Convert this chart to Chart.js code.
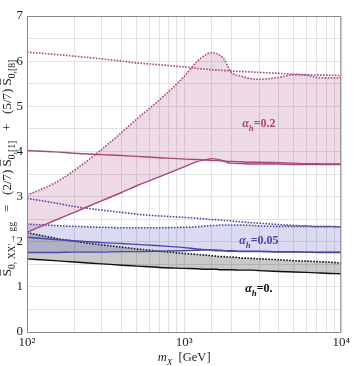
<!DOCTYPE html>
<html>
<head>
<meta charset="utf-8">
<script src="https://cdn.jsdelivr.net/npm/chart.js@4.4.1/dist/chart.umd.min.js"></script>
<style>
  html, body { margin: 0; padding: 0; background: #fff; }
</style>
</head>
<body>
<canvas id="myChart" width="353" height="366"></canvas>
<script>
// masses in GeV, shared by every curve
var masses = [100, 150, 200, 300, 400, 500, 700, 1000, 1200, 1400, 1500, 1600, 1700, 1800, 1900, 2000, 2300, 2700, 3000, 4000, 5000, 6000, 7000, 8000, 10000];

// alpha_h = 0.2
var pinkDotFlat  = [6.20, 6.15, 6.11, 6.05, 6.00, 5.96, 5.92, 5.87, 5.84, 5.82, 5.81, 5.80, 5.80, 5.79, 5.79, 5.78, 5.77, 5.76, 5.75, 5.73, 5.71, 5.70, 5.69, 5.69, 5.68];
var pinkDotRise  = [3.03, 3.30, 3.58, 4.05, 4.42, 4.72, 5.15, 5.66, 5.98, 6.16, 6.19, 6.17, 6.12, 6.04, 5.88, 5.75, 5.67, 5.61, 5.60, 5.64, 5.70, 5.69, 5.64, 5.63, 5.63];
var pinkSolRise  = [2.21, 2.47, 2.65, 2.91, 3.09, 3.24, 3.44, 3.66, 3.77, 3.82, 3.84, 3.83, 3.81, 3.78, 3.75, 3.74, 3.73, 3.72, 3.72, 3.72, 3.71, 3.71, 3.71, 3.71, 3.71];
var pinkSolFlat  = [4.02, 3.99, 3.96, 3.93, 3.91, 3.89, 3.86, 3.83, 3.82, 3.81, 3.80, 3.80, 3.79, 3.79, 3.78, 3.78, 3.77, 3.76, 3.76, 3.75, 3.74, 3.73, 3.73, 3.72, 3.72];

// alpha_h = 0.05
var blueDotFlat  = [2.96, 2.86, 2.78, 2.70, 2.65, 2.61, 2.57, 2.54, 2.52, 2.50, 2.49, 2.49, 2.48, 2.47, 2.47, 2.46, 2.44, 2.42, 2.41, 2.38, 2.36, 2.35, 2.34, 2.34, 2.33];
var blueDotBand  = [2.39, 2.36, 2.34, 2.32, 2.31, 2.31, 2.31, 2.32, 2.33, 2.35, 2.36, 2.36, 2.37, 2.37, 2.37, 2.37, 2.37, 2.36, 2.35, 2.34, 2.34, 2.34, 2.33, 2.33, 2.33];
var blueSolBand  = [1.76, 1.76, 1.77, 1.77, 1.78, 1.78, 1.79, 1.80, 1.81, 1.82, 1.82, 1.82, 1.81, 1.80, 1.79, 1.79, 1.78, 1.78, 1.78, 1.77, 1.77, 1.77, 1.76, 1.76, 1.76];
var blueSolFlat  = [2.10, 2.05, 2.02, 1.98, 1.96, 1.94, 1.91, 1.87, 1.84, 1.82, 1.81, 1.80, 1.80, 1.80, 1.80, 1.80, 1.79, 1.79, 1.79, 1.78, 1.78, 1.77, 1.77, 1.77, 1.77];

// alpha_h = 0
var greyDot      = [2.20, 2.08, 2.01, 1.93, 1.88, 1.84, 1.79, 1.74, 1.72, 1.70, 1.69, 1.68, 1.67, 1.67, 1.66, 1.66, 1.64, 1.63, 1.62, 1.60, 1.58, 1.57, 1.56, 1.55, 1.53];
var greySol      = [1.62, 1.58, 1.55, 1.51, 1.48, 1.46, 1.43, 1.41, 1.40, 1.39, 1.39, 1.39, 1.38, 1.38, 1.38, 1.38, 1.37, 1.37, 1.36, 1.34, 1.33, 1.32, 1.31, 1.30, 1.29];

var xTickLabels = {100: '10\u00b2', 1000: '10\u00b3', 10000: '10\u2074'};
var yTickLabels = [0, 1, 2, 3, 4, 5, 6, 7];

var PINK = '#a9487e', BLUE = '#4848a6', BLACK = '#111111';
var SERIF = '"Liberation Serif", "DejaVu Serif", serif';

function pts(arr) {
  return masses.map(function (m, i) { return {x: m, y: arr[i]}; });
}

function line(vals, color, dotted, fill, fillColor) {
  return {
    data: pts(vals),
    borderColor: color,
    borderWidth: dotted ? 1.6 : 1.4,
    borderDash: dotted ? [1.6, 1.4] : [],
    pointRadius: 0,
    cubicInterpolationMode: 'monotone',
    fill: fill ? '+1' : false,
    backgroundColor: fillColor || 'transparent'
  };
}

// draws a run of text pieces (subscripts, italics, overbars) centred on x
function drawRich(ctx, parts, x, y, size, color) {
  function font(p) {
    var s = p.sub ? size * 0.74 : size;
    return (p.i ? 'italic ' : '') + (p.b ? 'bold ' : '') + s + 'px ' + SERIF;
  }
  var total = 0;
  parts.forEach(function (p) { ctx.font = font(p); total += ctx.measureText(p.t).width; });
  var cx = x - total / 2;
  ctx.fillStyle = color;
  ctx.strokeStyle = color;
  ctx.textBaseline = 'alphabetic';
  ctx.textAlign = 'left';
  parts.forEach(function (p) {
    ctx.font = font(p);
    var w = ctx.measureText(p.t).width;
    var yy = p.sub ? y + size * 0.3 : y;
    ctx.fillText(p.t, cx, yy);
    if (p.bar) {
      ctx.lineWidth = 0.8;
      ctx.beginPath();
      ctx.moveTo(cx + 0.5, y - size * 0.82);
      ctx.lineTo(cx + w - 0.5, y - size * 0.82);
      ctx.stroke();
    }
    cx += w;
  });
}

var yTitle = [
  {t: 'S', bar: true}, {t: '0, XX\u2032\u2192 gg', sub: true},
  {t: '   =   (2/7) '}, {t: 'S', bar: true}, {t: '0,[1]', sub: true},
  {t: '   +   (5/7) '}, {t: 'S', bar: true}, {t: '0,[8]', sub: true}
];
var xTitle = [{t: 'm', i: true}, {t: 'X', i: true, sub: true}, {t: '  [GeV]'}];

var bandLabels = [
  {x: 2990, y: 4.63, color: PINK, parts: [{t: '\u03b1', i: true, b: true}, {t: 'h', i: true, b: true, sub: true}, {t: '=0.2', b: true}]},
  {x: 2990, y: 2.04, color: BLUE, parts: [{t: '\u03b1', i: true, b: true}, {t: 'h', i: true, b: true, sub: true}, {t: '=0.05', b: true}]},
  {x: 2990, y: 0.97, color: BLACK, parts: [{t: '\u03b1', i: true, b: true}, {t: 'h', i: true, b: true, sub: true}, {t: '=0.', b: true}]}
];

var decorations = {
  id: 'decorations',
  afterDraw: function (chart) {
    var ctx = chart.ctx, a = chart.chartArea;
    var xs = chart.scales.x, ys = chart.scales.y;
    ctx.save();
    ctx.strokeStyle = '#8a8a8a';
    ctx.lineWidth = 1;
    ctx.strokeRect(a.left + 0.5, a.top + 0.5, a.right - a.left - 1, a.bottom - a.top);
    bandLabels.forEach(function (l) {
      drawRich(ctx, l.parts, xs.getPixelForValue(l.x), ys.getPixelForValue(l.y) + 4, 12, l.color);
    });
    drawRich(ctx, xTitle, (a.left + a.right) / 2, 361, 12.5, '#222');
    ctx.translate(11, 168);
    ctx.rotate(-Math.PI / 2);
    drawRich(ctx, yTitle, 0, 0, 13, '#222');
    ctx.restore();
  }
};

var ctx = document.getElementById('myChart').getContext('2d');

var myChart = new Chart(ctx, {
  type: 'line',
  data: {
    datasets: [
      line(pinkDotFlat, PINK, true, false),
      line(pinkDotRise, PINK, true, true, 'rgba(168, 70, 125, 0.2)'),
      line(pinkSolRise, PINK, false, false),
      line(pinkSolFlat, PINK, false, false),
      line(blueDotFlat, BLUE, true, false),
      line(blueDotBand, BLUE, true, true, 'rgba(72, 72, 180, 0.2)'),
      line(blueSolBand, BLUE, false, false),
      line(blueSolFlat, BLUE, false, false),
      line(greyDot, BLACK, true, true, 'rgba(0, 0, 0, 0.21)'),
      line(greySol, BLACK, false, false)
    ]
  },
  options: {
    responsive: false,
    animation: false,
    devicePixelRatio: 1,
    layout: { padding: { top: 16, right: 9, left: 0, bottom: 0 } },
    plugins: {
      legend: { display: false },
      tooltip: { enabled: false }
    },
    scales: {
      x: {
        type: 'logarithmic',
        min: 100,
        max: 10000,
        border: { display: false },
        grid: { color: '#e2e2e2', drawTicks: false },
        ticks: {
          autoSkip: false,
          maxRotation: 0,
          padding: 3,
          color: '#222',
          font: { family: SERIF, size: 13 },
          callback: function (v) { return xTickLabels[v] || ''; }
        },
        afterFit: function (scale) { scale.height = 34; }
      },
      y: {
        min: 0,
        max: 7,
        border: { display: false },
        grid: { color: '#e2e2e2', drawTicks: false },
        ticks: {
          stepSize: 0.5,
          autoSkip: false,
          padding: 4,
          color: '#222',
          font: { family: SERIF, size: 13 },
          callback: function (v) { return yTickLabels.indexOf(v) >= 0 ? String(v) : ''; }
        },
        afterFit: function (scale) { scale.width = 27; }
      }
    }
  },
  plugins: [decorations]
});
</script>
</body>
</html>
